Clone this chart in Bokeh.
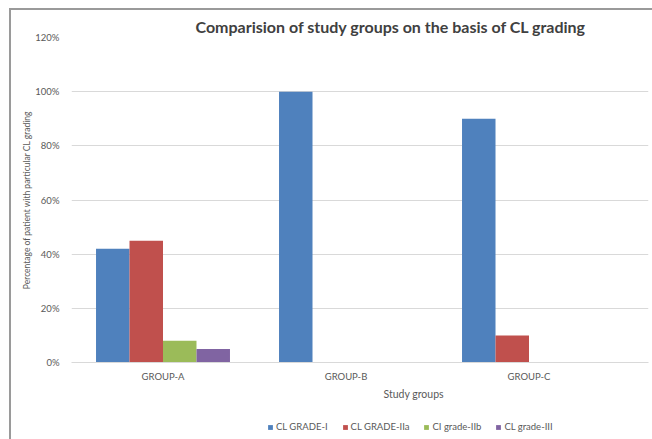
from bokeh.plotting import figure
from bokeh.layouts import column
from bokeh.models import (Range1d, PrintfTickFormatter, FixedTicker, Legend, LegendItem,
                          Title, ColumnDataSource)
from bokeh.transform import dodge
from bokeh.embed import file_html
from bokeh.resources import INLINE

groups = ["GROUP-A", "GROUP-B", "GROUP-C"]
series = ["CL GRADE-I", "CL GRADE-IIa", "CI grade-IIb", "CL grade-III"]
grade_i = [42, 100, 90]
grade_iia = [45, 0, 10]
grade_iib = [8, 0, 0]
grade_iii = [5, 0, 0]
colors = ["#4f81bd", "#c0504d", "#9bbb59", "#8064a2"]
y_ticks = [0, 20, 40, 60, 80, 100, 120]

FONT = "Lato"
GRAY = "#595959"

src = ColumnDataSource(dict(
    x=list(range(len(groups))),
    g1=grade_i, g2=grade_iia, g3=grade_iib, g4=grade_iii,
))

p = figure(width=641, height=407, output_backend="svg", toolbar_location=None,
           x_range=Range1d(-0.5, 2.653), y_range=Range1d(0, 120),
           min_border_left=60, min_border_right=4, min_border_top=27, min_border_bottom=55)

bw = 0.183
cols = ["g1", "g2", "g3", "g4"]
offs = [-1.5 * bw, -0.5 * bw, 0.5 * bw, 1.5 * bw]
for c, o, col in zip(cols, offs, colors):
    p.vbar(x=dodge("x", o), top=c, width=bw, source=src, fill_color=col, line_color=None)

p.outline_line_color = None
p.background_fill_color = "white"
p.border_fill_color = "white"

p.xgrid.grid_line_color = None
p.ygrid.grid_line_color = "#d9d9d9"
p.ygrid.ticker = FixedTicker(ticks=y_ticks)

p.yaxis.ticker = FixedTicker(ticks=y_ticks)
p.yaxis.formatter = PrintfTickFormatter(format="%d%%")
p.yaxis.axis_line_color = None
p.yaxis.major_tick_line_color = None
p.yaxis.minor_tick_line_color = None
p.yaxis.major_label_text_font = FONT
p.yaxis.major_label_text_font_size = "9.5px"
p.yaxis.major_label_text_color = GRAY
p.yaxis.major_label_standoff = 6
p.yaxis.axis_label = "Percentage of patient with particular CL grading"
p.yaxis.axis_label_text_font = FONT
p.yaxis.axis_label_text_font_style = "normal"
p.yaxis.axis_label_text_font_size = "8.5px"
p.yaxis.axis_label_text_color = GRAY
p.yaxis.axis_label_standoff = 0

p.xaxis.ticker = FixedTicker(ticks=list(range(len(groups))))
p.xaxis.major_label_overrides = {i: g for i, g in enumerate(groups)}
p.xaxis.axis_line_color = "#d9d9d9"
p.xaxis.major_tick_line_color = None
p.xaxis.minor_tick_line_color = None
p.xaxis.major_label_text_font = FONT
p.xaxis.major_label_text_font_size = "9.5px"
p.xaxis.major_label_text_color = GRAY
p.xaxis.major_label_standoff = 2

p.title.text = "Comparision of study groups  on the basis of CL grading"
p.title.text_font = FONT
p.title.text_font_size = "16px"
p.title.text_font_style = "bold"
p.title.text_color = "#404040"
p.title.align = "left"
p.title.offset = 124
p.title.standoff = 4

xt = Title(text="Study groups", text_font=FONT, text_font_size="10.5px",
           text_font_style="normal", text_color=GRAY, align="left", offset=312,
           standoff=3)
p.add_layout(xt, "below")

# legend strip below the chart (same series, drawn out of view so only the legend shows)
p2 = figure(width=641, height=22, output_backend="svg", toolbar_location=None,
            x_range=Range1d(-0.5, 2.653), y_range=Range1d(500, 501), min_border=0,
            x_axis_type=None, y_axis_type=None)
p2.outline_line_color = None
p2.grid.visible = False
leg_renderers = [p2.vbar(x=dodge("x", o), top=c, width=bw, source=src, fill_color=col, line_color=None)
                 for c, o, col in zip(cols, offs, colors)]
legend = Legend(items=[LegendItem(label=s, renderers=[r]) for s, r in zip(series, leg_renderers)],
                orientation="horizontal", location=(196, 7),
                label_text_font=FONT, label_text_font_size="9.5px", label_text_color=GRAY,
                glyph_width=6, glyph_height=6, label_standoff=3, spacing=14,
                padding=2, margin=0, border_line_color=None, background_fill_alpha=0)
p2.add_layout(legend, "center")

lay = column(p, p2, spacing=0, margin=(8, 0, 0, 9),
             styles={"border-top": "2px solid #9a9a9a", "border-left": "2px solid #9a9a9a"})

open("out.html", "w").write(file_html(lay, INLINE))
